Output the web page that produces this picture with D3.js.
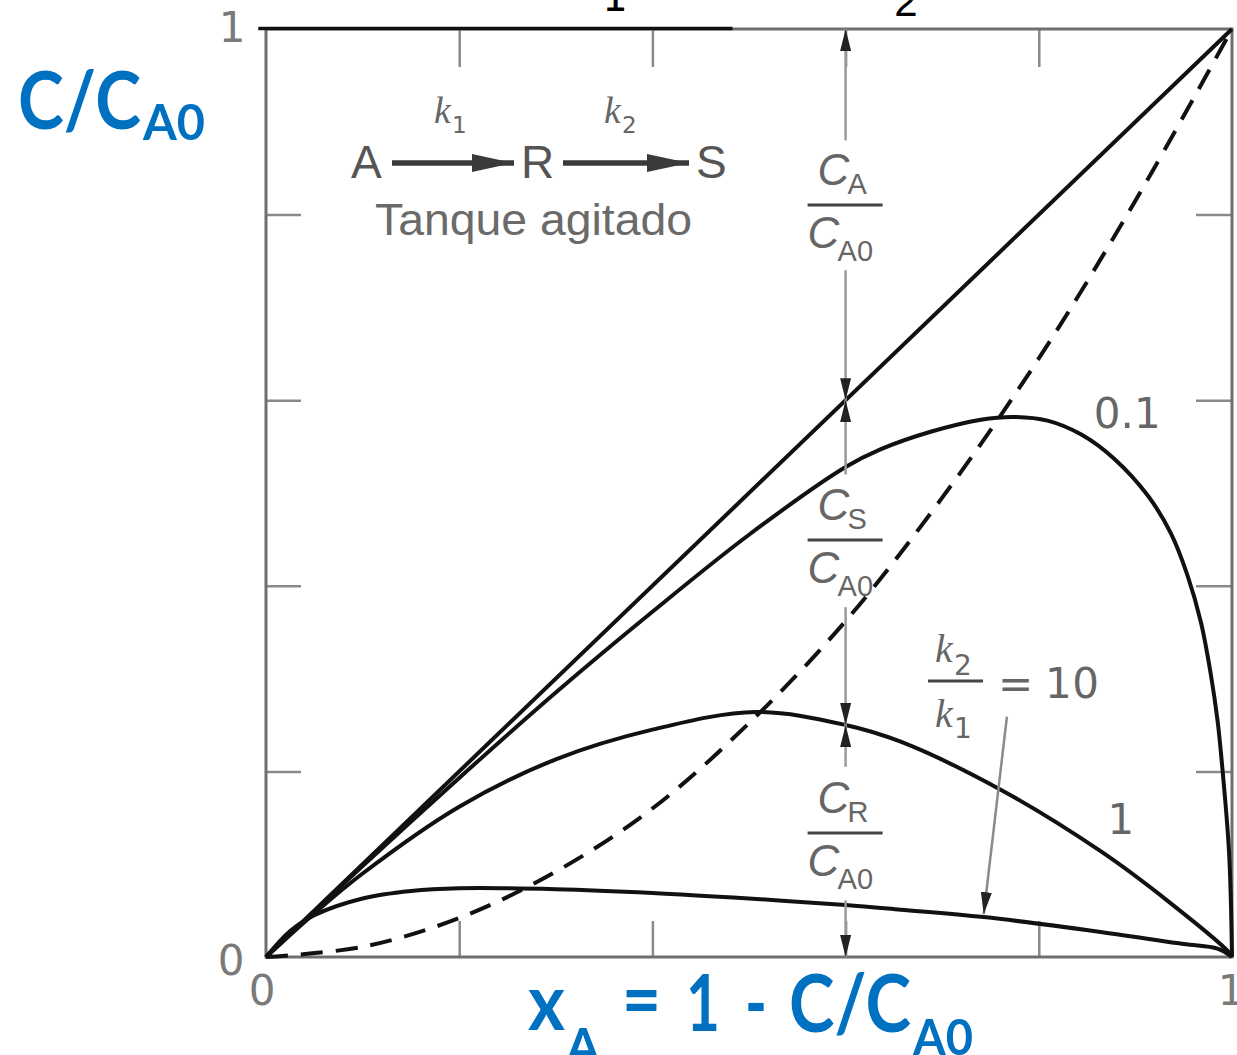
<!DOCTYPE html>
<html>
<head>
<meta charset="utf-8">
<script src="https://cdn.jsdelivr.net/npm/d3@7"></script>
<style>
  body { margin: 0; background: #fff; }
  svg { display: block; }
</style>
</head>
<body>
<script>
// ---- Data: fractional conversion x_A and concentration ratios, A -> R -> S in a stirred tank ----
const tickValues = [0.2, 0.4, 0.6, 0.8];

// Conversion line C/C_A0 = x_A (separates C_A from C_R + C_S)
const diagX = [0, 1];
const diagY = [0, 1];

// C_R/C_A0 for k2/k1 = 0.1
const k01X = [0, 0.1, 0.2, 0.3, 0.4, 0.5, 0.6, 0.636, 0.688, 0.74, 0.774, 0.809, 0.844, 0.878, 0.913, 0.937, 0.954, 0.968, 0.978, 0.985, 0.989, 0.997, 1];
const k01Y = [0, 0.098, 0.193, 0.285, 0.372, 0.455, 0.528, 0.547, 0.566, 0.579, 0.582, 0.578, 0.563, 0.537, 0.497, 0.456, 0.411, 0.36, 0.305, 0.255, 0.215, 0.112, 0];

// C_R/C_A0 for k2/k1 = 1
const k1X = [0, 0.05, 0.1, 0.2, 0.3, 0.4, 0.507, 0.6, 0.657, 0.761, 0.864, 0.934, 0.996, 1];
const k1Y = [0, 0.047, 0.09, 0.162, 0.213, 0.245, 0.264, 0.25, 0.232, 0.18, 0.114, 0.06, 0.006, 0];

// C_R/C_A0 for k2/k1 = 10
const k10X = [0, 0.025, 0.05, 0.1, 0.15, 0.2, 0.3, 0.4, 0.5, 0.6, 0.657, 0.743, 0.864, 0.95, 0.985, 1];
const k10Y = [0, 0.028, 0.045, 0.063, 0.071, 0.074, 0.073, 0.069, 0.063, 0.056, 0.051, 0.043, 0.027, 0.014, 0.009, 0];

// C_S/C_A0 for k2/k1 = 1 (dashed)
const csX = [0, 0.1, 0.2, 0.3, 0.4, 0.5, 0.6, 0.7, 0.8, 0.9, 1];
const csY = [0, 0.011, 0.042, 0.092, 0.16, 0.252, 0.362, 0.495, 0.645, 0.815, 1];

// Ratio labels for the C_R curves
const ratioLabels = ["0.1", "1"];

// ---- Drawing ----
const W = 1237, H = 1055;
const svg = d3.select("body").append("svg").attr("width", W).attr("height", H);
svg.append("rect").attr("width", W).attr("height", H).attr("fill", "#fff");

const x = d3.scaleLinear().domain([0, 1]).range([266, 1232]);
const y = d3.scaleLinear().domain([0, 1]).range([957, 29]);

const defs = svg.append("defs");
defs.append("marker").attr("id", "head")
  .attr("viewBox", "0 0 22 11").attr("refX", 22).attr("refY", 5.5)
  .attr("markerWidth", 22).attr("markerHeight", 11)
  .attr("markerUnits", "userSpaceOnUse").attr("orient", "auto-start-reverse")
  .append("path").attr("d", "M0,0L22,5.5L0,11Z").attr("fill", "#222");
defs.append("marker").attr("id", "bighead")
  .attr("viewBox", "0 0 42 18").attr("refX", 42).attr("refY", 9)
  .attr("markerWidth", 42).attr("markerHeight", 18)
  .attr("markerUnits", "userSpaceOnUse").attr("orient", "auto")
  .append("path").attr("d", "M0,0L42,9L0,18Z").attr("fill", "#3a3a3a");

// Inward ticks on all four sides
const tickStyle = g => {
  g.select(".domain").remove();
  g.selectAll(".tick line").attr("stroke", "#8a8a8a").attr("stroke-width", 2.5);
};
svg.append("g").attr("transform", `translate(0,${y(0)})`)
  .call(d3.axisTop(x).tickValues(tickValues).tickSize(36).tickFormat("")).call(tickStyle);
svg.append("g").attr("transform", `translate(0,${y(1)})`)
  .call(d3.axisBottom(x).tickValues(tickValues).tickSize(38).tickFormat("")).call(tickStyle);
svg.append("g").attr("transform", `translate(${x(0)},0)`)
  .call(d3.axisRight(y).tickValues(tickValues).tickSize(35).tickFormat("")).call(tickStyle);
svg.append("g").attr("transform", `translate(${x(1)},0)`)
  .call(d3.axisLeft(y).tickValues(tickValues).tickSize(36).tickFormat("")).call(tickStyle);

// Plot frame
svg.append("rect")
  .attr("x", x(0)).attr("y", y(1))
  .attr("width", x(1) - x(0)).attr("height", y(0) - y(1))
  .attr("fill", "none").attr("stroke", "#6f6f6f").attr("stroke-width", 3);
// dark rule along the left part of the top edge
svg.append("line")
  .attr("x1", x(-0.008)).attr("x2", x(0.483)).attr("y1", y(1) - 0.5).attr("y2", y(1) - 0.5)
  .attr("stroke", "#111").attr("stroke-width", 3.5);

// Curves
const line = d3.line().x(d => x(d[0])).y(d => y(d[1])).curve(d3.curveCatmullRom.alpha(0.5));
const zip = (a, b) => a.map((v, i) => [v, b[i]]);
const curves = [
  { pts: zip(diagX, diagY), dash: null },
  { pts: zip(k01X, k01Y), dash: null },
  { pts: zip(k1X, k1Y), dash: null },
  { pts: zip(k10X, k10Y), dash: null },
  { pts: zip(csX, csY), dash: "22,13" }
];
svg.append("g").selectAll("path").data(curves).join("path")
  .attr("d", d => line(d.pts))
  .attr("fill", "none").attr("stroke", "#111").attr("stroke-width", 4)
  .attr("stroke-linejoin", "round")
  .attr("stroke-dasharray", d => d.dash);

// Vertical dimension line at x_A = 0.6
const xm = 0.6;
const cAt = xm;                               // diagonal value
const cRat = k1Y[k1X.indexOf(0.6)];           // C_R for k2/k1 = 1
const segs = [
  { a: 1, b: 0.88, start: true, end: false },
  { a: 0.74, b: cAt, start: false, end: true },
  { a: cAt, b: 0.52, start: true, end: false },
  { a: 0.377, b: cRat, start: false, end: true },
  { a: cRat, b: 0.205, start: true, end: false },
  { a: 0.061, b: 0, start: false, end: true }
];
svg.append("g").selectAll("line").data(segs).join("line")
  .attr("x1", x(xm)).attr("x2", x(xm))
  .attr("y1", d => y(d.a)).attr("y2", d => y(d.b))
  .attr("stroke", "#999").attr("stroke-width", 2.5)
  .attr("marker-start", d => d.start ? "url(#head)" : null)
  .attr("marker-end", d => d.end ? "url(#head)" : null);

// Fraction labels along the dimension line
const grey = "#666";
function ratio(cx, top, sub) {
  const g = svg.append("g").attr("fill", grey);
  g.append("text").attr("x", cx - 28).attr("y", top + 33)
    .attr("font-family", "Liberation Sans, Arial, sans-serif").attr("font-style", "italic")
    .attr("font-size", 44).text("C");
  g.append("text").attr("x", cx + 2).attr("y", top + 42)
    .attr("font-family", "Liberation Sans, Arial, sans-serif")
    .attr("font-size", 29).text(sub);
  g.append("line").attr("x1", cx - 38).attr("x2", cx + 37)
    .attr("y1", top + 53).attr("y2", top + 53)
    .attr("stroke", "#444").attr("stroke-width", 3);
  g.append("text").attr("x", cx - 38).attr("y", top + 96)
    .attr("font-family", "Liberation Sans, Arial, sans-serif").attr("font-style", "italic")
    .attr("font-size", 44).text("C");
  g.append("text").attr("x", cx - 8).attr("y", top + 109)
    .attr("font-family", "Liberation Sans, Arial, sans-serif")
    .attr("font-size", 29).text("A0");
}
ratio(x(xm), 152, "A");
ratio(x(xm), 487, "S");
ratio(x(xm), 780, "R");

// Reaction scheme
const scheme = svg.append("g");
const sans = "Liberation Sans, Arial, sans-serif";
scheme.append("text").attr("x", 351).attr("y", 178).attr("font-family", sans)
  .attr("font-size", 46).attr("fill", "#555").text("A");
scheme.append("text").attr("x", 521).attr("y", 178).attr("font-family", sans)
  .attr("font-size", 46).attr("fill", "#555").text("R");
scheme.append("text").attr("x", 696).attr("y", 178).attr("font-family", sans)
  .attr("font-size", 46).attr("fill", "#555").text("S");
[[392, 514], [563, 689]].forEach(([a, b]) => {
  scheme.append("line").attr("x1", a).attr("x2", b).attr("y1", 163).attr("y2", 163)
    .attr("stroke", "#3a3a3a").attr("stroke-width", 5.5).attr("marker-end", "url(#bighead)");
});
[["1", 434], ["2", 604]].forEach(([n, px]) => {
  scheme.append("text").attr("x", px).attr("y", 123)
    .attr("font-family", "Liberation Serif, Times New Roman, serif").attr("font-style", "italic")
    .attr("font-size", 38).attr("fill", "#666").text("k");
  scheme.append("text").attr("x", px + 18).attr("y", 133)
    .attr("font-family", "DejaVu Sans, sans-serif")
    .attr("font-size", 23).attr("fill", "#666").text(n);
});
scheme.append("text").attr("x", 375).attr("y", 235).attr("font-family", sans)
  .attr("font-size", 45).attr("fill", "#6a6a6a")
  .attr("textLength", 317).attr("lengthAdjust", "spacingAndGlyphs")
  .text("Tanque agitado");

// Curve labels
const digits = "DejaVu Sans, sans-serif";
svg.append("text").attr("x", x(0.857)).attr("y", y(0.57)).attr("font-family", digits)
  .attr("font-size", 42).attr("fill", grey).text(ratioLabels[0]);
svg.append("text").attr("x", x(0.885)).attr("y", y(0.133)).attr("font-family", digits)
  .attr("font-size", 42).attr("fill", grey).attr("text-anchor", "middle").text(ratioLabels[1]);

// k2/k1 = 10 label with pointer
const kl = svg.append("g").attr("fill", grey);
kl.append("text").attr("x", 935).attr("y", 662)
  .attr("font-family", "Liberation Serif, Times New Roman, serif").attr("font-style", "italic")
  .attr("font-size", 40).text("k");
kl.append("text").attr("x", 954).attr("y", 675).attr("font-family", digits)
  .attr("font-size", 28).text("2");
kl.append("line").attr("x1", 928).attr("x2", 983).attr("y1", 681).attr("y2", 681)
  .attr("stroke", "#444").attr("stroke-width", 3);
kl.append("text").attr("x", 935).attr("y", 727)
  .attr("font-family", "Liberation Serif, Times New Roman, serif").attr("font-style", "italic")
  .attr("font-size", 40).text("k");
kl.append("text").attr("x", 954).attr("y", 738).attr("font-family", digits)
  .attr("font-size", 28).text("1");
kl.append("text").attr("x", 998).attr("y", 698).attr("font-family", digits)
  .attr("font-size", 42).text("=");
kl.append("text").attr("x", 1045).attr("y", 698).attr("font-family", digits)
  .attr("font-size", 42).attr("textLength", 54).text("10");
const tipIdx = k10X.indexOf(0.743);
svg.append("line")
  .attr("x1", x(0.767)).attr("y1", y(0.259))
  .attr("x2", x(k10X[tipIdx])).attr("y2", y(k10Y[tipIdx]) - 3)
  .attr("stroke", "#8a8a8a").attr("stroke-width", 2.5)
  .attr("marker-end", "url(#head)");

// Axis end labels
const axisTxt = [
  { t: "1", px: 232, py: 42 },
  { t: "0", px: 231, py: 975 },
  { t: "0", px: 262, py: 1005 },
  { t: "1", px: 1231, py: 1005 }
];
svg.append("g").selectAll("text").data(axisTxt).join("text")
  .attr("x", d => d.px).attr("y", d => d.py)
  .attr("text-anchor", "middle").attr("font-family", digits)
  .attr("font-size", 42).attr("fill", "#7a7a7a").text(d => d.t);

// Numbers along the top edge
svg.append("text").attr("x", 615).attr("y", 11).attr("text-anchor", "middle")
  .attr("font-family", digits).attr("font-size", 40).attr("fill", "#000").text("1");
svg.append("text").attr("x", 906).attr("y", 16).attr("text-anchor", "middle")
  .attr("font-family", "Liberation Sans, Arial, sans-serif").attr("font-size", 42).attr("fill", "#000").text("2");

// Axis titles
const blue = "#0070C0";
const bold = "Lato, Open Sans, sans-serif";
const title = (t, px, py, size, len) => svg.append("text")
  .attr("x", px).attr("y", py).attr("font-family", bold).attr("font-weight", 700)
  .attr("font-size", size).attr("fill", blue)
  .attr("textLength", len).attr("lengthAdjust", "spacingAndGlyphs").text(t);

title("C/C", 18, 129, 80, 123);
title("A0", 143, 140, 50, 62);

title("x", 528, 1030, 78, 37);
title("A", 566, 1064, 50, 34);
title("=", 622, 1027, 78, 39);
title("1", 686, 1031, 78, 34);
title("-", 745, 1031, 78, 22);
title("C/C", 789, 1032, 80, 122);
title("A0", 913, 1055, 50, 60);
</script>
</body>
</html>
